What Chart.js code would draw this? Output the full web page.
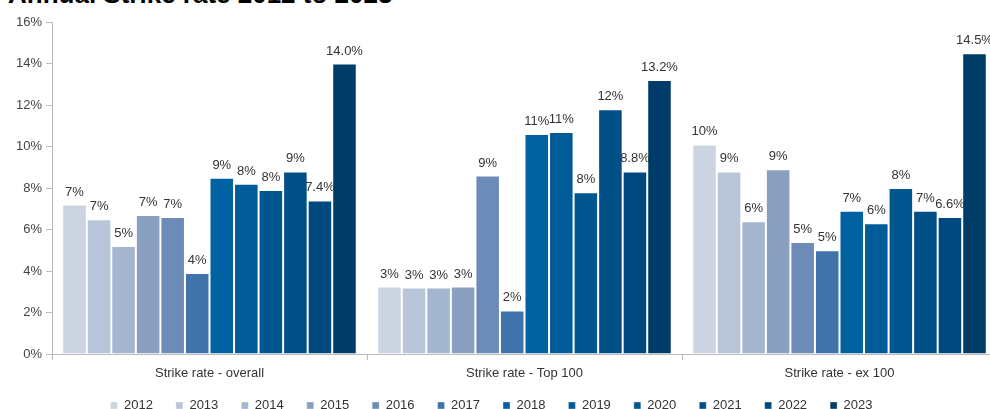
<!DOCTYPE html>
<html>
<head>
<meta charset="utf-8">
<script src="https://cdn.jsdelivr.net/npm/chart.js@4/dist/chart.umd.min.js"></script>
<style>
    html, body { margin: 0; padding: 0; background: #fff; overflow: hidden; }
    body { width: 990px; height: 409px; position: relative; }
    #title {
        position: absolute; left: 8px; top: -19px;
        font: bold 26px "Liberation Sans", Arial, sans-serif; line-height: 26px;
        color: #000; white-space: nowrap;
    }
    #wrap { position: absolute; left: 0; top: 0; width: 997px; height: 409px; }
</style>
</head>
<body>
<div id="title">Annual Strike rate 2012 to 2023</div>
<div id="wrap"><canvas id="strikeChart"></canvas></div>
<script>
// Categories and series (values in %)
const groups = ['Strike rate - overall', 'Strike rate - Top 100', 'Strike rate - ex 100'];
const years = ['2012', '2013', '2014', '2015', '2016', '2017', '2018', '2019', '2020', '2021', '2022', '2023'];

const overall = [7.2, 6.5, 5.2, 6.7, 6.6, 3.9, 8.5, 8.2, 7.9, 8.8, 7.4, 14.0];
const top100  = [3.25, 3.2, 3.2, 3.25, 8.6, 2.1, 10.6, 10.7, 7.8, 11.8, 8.8, 13.2];
const ex100   = [10.1, 8.8, 6.4, 8.9, 5.4, 5.0, 6.9, 6.3, 8.0, 6.9, 6.6, 14.5];

const yTicks = [0, 2, 4, 6, 8, 10, 12, 14, 16];

const colors = ['#ccd4e2', '#b8c4d7', '#a4b5cf', '#8b9fc1', '#6c8bb6', '#3f73a9',
                '#0062a1', '#005b98', '#00568f', '#004f87', '#00497e', '#003c68'];

// 2022 and 2023 labels carry one decimal in the original
const labelDecimals = [0, 0, 0, 0, 0, 0, 0, 0, 0, 0, 1, 1];

const datasets = years.map((yr, i) => ({
    label: yr,
    data: [overall[i], top100[i], ex100[i]],
    backgroundColor: colors[i],
    borderColor: 'rgba(255,255,255,0.35)',
    borderWidth: 1,
    categoryPercentage: 0.935,
    barPercentage: 1.0
}));

// Draw value labels above the bars
const valueLabels = {
    id: 'valueLabels',
    afterDatasetsDraw(chart) {
        const ctx = chart.ctx;
        ctx.save();
        ctx.font = '13px "Liberation Sans", Arial, sans-serif';
        ctx.fillStyle = '#333';
        ctx.textAlign = 'center';
        ctx.textBaseline = 'alphabetic';
        chart.data.datasets.forEach((ds, i) => {
            const meta = chart.getDatasetMeta(i);
            meta.data.forEach((bar, j) => {
                const txt = ds.data[j].toFixed(labelDecimals[i]) + '%';
                ctx.fillText(txt, bar.x, bar.y - 9);
            });
        });
        ctx.restore();
    }
};

// Nudge the legend to where it sits in the original
const legendShift = {
    id: 'legendShift',
    afterLayout(chart) {
        const lg = chart.legend;
        const dx = -7, dy = -8;
        lg.left += dx; lg.right += dx;
        lg.top += dy; lg.bottom += dy;
    }
};

const axisFont = { family: '"Liberation Sans", Arial, sans-serif', size: 13 };

new Chart(document.getElementById('strikeChart'), {
    type: 'bar',
    data: { labels: groups, datasets: datasets },
    plugins: [valueLabels, legendShift],
    options: {
        responsive: true,
        maintainAspectRatio: false,
        animation: false,
        layout: { padding: { top: 22, left: 0, right: 0, bottom: -21 } },
        plugins: {
            tooltip: { enabled: false },
            legend: {
                position: 'bottom',
                labels: {
                    boxWidth: 7,
                    boxHeight: 7,
                    padding: 23,
                    color: '#333',
                    font: axisFont
                }
            }
        },
        scales: {
            x: {
                afterFit: axis => { axis.height = 30; },
                grid: { display: true, drawOnChartArea: false, offset: true, tickLength: 6, color: '#bbb' },
                border: { color: '#bbb' },
                ticks: { color: '#333', font: axisFont, padding: 6 }
            },
            y: {
                min: 0,
                max: 16,
                afterFit: axis => { axis.width = 52; },
                afterBuildTicks: axis => { axis.ticks = yTicks.map(v => ({ value: v })); },
                grid: { display: true, drawOnChartArea: false, tickLength: 6, color: '#bbb' },
                border: { color: '#bbb' },
                ticks: {
                    color: '#444',
                    font: axisFont,
                    padding: 4,
                    callback: v => v + '%'
                }
            }
        }
    }
});
</script>
</body>
</html>
